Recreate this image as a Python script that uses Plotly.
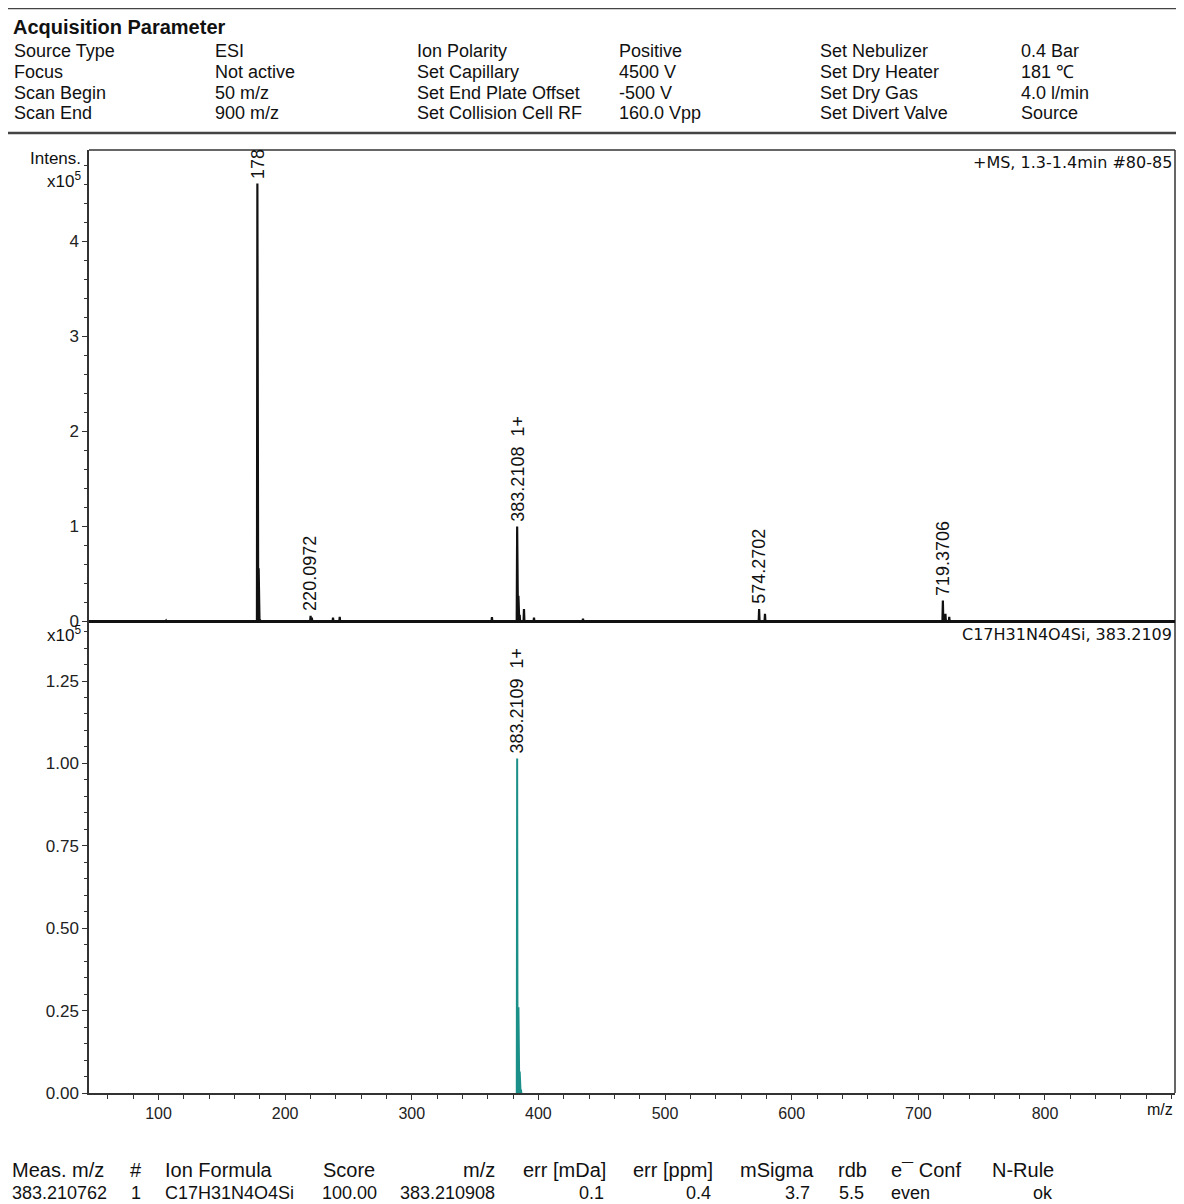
import plotly.graph_objects as go

# ---------------- data ----------------
# Top panel: measured spectrum (+MS), intensities in units of 1e5
ms_mz = [106.0, 160.9, 178.08, 179.08, 180.1, 184.5, 201.8, 220.0972, 221.1,
         237.8, 243.1, 363.3, 383.2108, 384.21, 385.21, 388.6, 396.5, 404.4,
         435.2, 574.2702, 578.9, 719.3706, 721.4, 724.4]
ms_int = [0.008, 0.01, 4.61, 0.56, 0.02, 0.01, 0.01, 0.06, 0.04,
          0.04, 0.05, 0.045, 1.00, 0.27, 0.07, 0.13, 0.04, 0.01,
          0.03, 0.13, 0.08, 0.22, 0.08, 0.05]
ms_labels = {178.08: "178", 220.0972: "220.0972", 383.2108: "383.2108  1+",
             574.2702: "574.2702", 719.3706: "719.3706"}

# Bottom panel: simulated isotope pattern, intensities in units of 1e5
sim_mz = [383.2109, 384.2135, 385.2120, 386.2130]
sim_int = [1.015, 0.26, 0.065, 0.01]
sim_labels = {383.2109: "383.2109  1+"}

x_ticks = [100, 200, 300, 400, 500, 600, 700, 800]
top_ticks = [0, 1, 2, 3, 4]
bot_ticks = [0.00, 0.25, 0.50, 0.75, 1.00, 1.25]

header_title = "Acquisition Parameter"
header_cols = [
    ["Source Type", "Focus", "Scan Begin", "Scan End"],
    ["ESI", "Not active", "50 m/z", "900 m/z"],
    ["Ion Polarity", "Set Capillary", "Set End Plate Offset", "Set Collision Cell RF"],
    ["Positive", "4500 V", "-500 V", "160.0 Vpp"],
    ["Set Nebulizer", "Set Dry Heater", "Set Dry Gas", "Set Divert Valve"],
    ["0.4 Bar", "181 \u2103", "4.0 l/min", "Source"],
]

table_header = ["Meas. m/z", "#", "Ion Formula", "Score", "m/z", "err [mDa]",
                "err [ppm]", "mSigma", "rdb", "e\u00af Conf", "N-Rule"]
table_row = ["383.210762", "1", "C17H31N4O4Si", "100.00", "383.210908", "0.1",
             "0.4", "3.7", "5.5", "even", "ok"]

# ---------------- layout helpers ----------------
# the page body has an 8px margin; the visible drawing area is x 8..1176
OFF = 8
W, H = 1184 - 2 * OFF, 1204 - OFF
L, R, T, B = 89, 1175, 150, 1093          # plot area in window pixels
PW, PH = R - L, B - T

# axis calibration (pixels per m/z unit, pixel of m/z 100)
PX_PER_MZ = 1.2664
PX_100 = 158.5
X_MIN = 100 - (PX_100 - L) / PX_PER_MZ
X_MAX = 100 + (R - PX_100) / PX_PER_MZ


def px(x):
    return (x - L) / PW


def py(y):
    return (B - y) / PH


def profile(mz, inten, hw=0.35, full=True):
    xs, ys = ([X_MIN], [0.0]) if full else ([], [])
    for m, h in sorted(zip(mz, inten)):
        xs += [m - hw, m, m + hw]
        ys += [0.0, h, 0.0]
    if full:
        xs.append(X_MAX)
        ys.append(0.0)
    return xs, ys


fig = go.Figure()
tx, ty = profile(ms_mz, ms_int)
fig.add_trace(go.Scatter(x=tx, y=ty, mode="lines", xaxis="x", yaxis="y",
                         line=dict(color="#111111", width=2.2), hoverinfo="skip",
                         showlegend=False))
bx, by = profile(sim_mz, sim_int, hw=0.3, full=False)
fig.add_trace(go.Scatter(x=bx, y=by, mode="lines", xaxis="x2", yaxis="y2",
                         line=dict(color="#1a9088", width=2), hoverinfo="skip",
                         showlegend=False))

TXT = "#111111"
AX = "#333333"
SANS = "Liberation Sans, Arial, sans-serif"
TAH = "DejaVu Sans, Tahoma, sans-serif"

ann = []
# peak labels
for m, lab in ms_labels.items():
    h = ms_int[ms_mz.index(m)]
    ann.append(dict(x=m, y=h, xref="x", yref="y", text=lab, textangle=-90,
                    showarrow=False, xanchor="center", yanchor="bottom", yshift=3,
                    font=dict(family=SANS, size=18, color=TXT)))
for m, lab in sim_labels.items():
    h = sim_int[sim_mz.index(m)]
    ann.append(dict(x=m, y=h, xref="x2", yref="y2", text=lab, textangle=-90,
                    showarrow=False, xanchor="center", yanchor="bottom", yshift=3,
                    font=dict(family=SANS, size=18, color=TXT)))


def label(x, y, text, anchor="left", size=18, family=SANS):
    ann.append(dict(x=px(x), y=py(y), xref="paper", yref="paper", text=text,
                    showarrow=False, xanchor=anchor, yanchor="middle",
                    font=dict(family=family, size=size, color=TXT)))


# panel captions
label(R - 1, 162, "+MS, 1.3-1.4min #80-85", "right", 16, TAH)
label(R - 1, 634, "C17H31N4O4Si, 383.2109", "right", 16, TAH)
label(83, 159, "Intens.", "right", 17)
label(83, 180, "x10<sup>5</sup>", "right", 17)
label(83, 634, "x10<sup>5</sup>", "right", 17)
label(R, 1109, "m/z", "right", 16)

# header
label(11, 27, "<b>" + header_title + "</b>", "left", 20)
col_x = [12, 213, 415, 617, 818, 1019]
row_y = [51, 72, 93, 113]
for cx, col in zip(col_x, header_cols):
    for ry, t in zip(row_y, col):
        label(cx, ry, t, "left", 18)

# result table
hdr_pos = [(10, "left"), (128, "left"), (163, "left"), (321, "left"), (497, "right"),
           (521, "left"), (631, "left"), (738, "left"), (836, "left"), (889, "left"),
           (990, "left")]
row_pos = [(10, "left"), (129, "left"), (163, "left"), (320, "left"), (497, "right"),
           (606, "right"), (713, "right"), (812, "right"), (866, "right"), (889, "left"),
           (1031, "left")]
for (x0, anc), t in zip(hdr_pos, table_header):
    label(x0, 1170, t, anc, 20)
for (x0, anc), t in zip(row_pos, table_row):
    label(x0, 1193, t, anc, 18)

shapes = [
    # header rules
    dict(type="line", xref="paper", yref="paper", x0=px(0), x1=px(1184),
         y0=py(8), y1=py(8), line=dict(color="#444444", width=2.5)),
    dict(type="line", xref="paper", yref="paper", x0=px(0), x1=px(1184),
         y0=py(133), y1=py(133), line=dict(color="#444444", width=2.5)),
    # frame
    dict(type="line", xref="paper", yref="paper", x0=0, x1=1, y0=1, y1=1,
         line=dict(color=AX, width=1.5)),
    dict(type="line", xref="paper", yref="paper", x0=1, x1=1, y0=0, y1=1,
         line=dict(color=AX, width=1.5)),
    # panel divider / baseline of top spectrum
    dict(type="line", xref="paper", yref="paper", x0=0, x1=1, y0=0.5, y1=0.5,
         line=dict(color="#111111", width=2.8)),
]

top_range = (PH / 2) / 95.0
bot_range = (PH / 2) / 329.6

yaxis_common = dict(showline=True, linecolor=AX, linewidth=1.5, ticks="outside",
                    ticklen=5, tickwidth=1.2, tickcolor=AX, showgrid=False,
                    zeroline=False, tickfont=dict(family=SANS, size=17, color="#222"))

fig.update_layout(
    width=W, height=H,
    margin=dict(l=L - OFF, r=(W + OFF) - R, t=T - OFF, b=(H + OFF) - B, pad=0),
    paper_bgcolor="white", plot_bgcolor="white",
    showlegend=False,
    xaxis=dict(domain=[0, 1], anchor="y", range=[X_MIN, X_MAX], showticklabels=False,
               ticks="", showline=False, showgrid=False, zeroline=False,
               matches="x2"),
    yaxis=dict(domain=[0.5, 1], anchor="x", range=[0, top_range],
               tickvals=top_ticks, ticktext=[str(v) for v in top_ticks],
               minor=dict(dtick=0.2, ticks="outside", ticklen=3, tickcolor=AX,
                          showgrid=False),
               **yaxis_common),
    xaxis2=dict(domain=[0, 1], anchor="y2", range=[X_MIN, X_MAX], tickvals=x_ticks,
                showline=True, linecolor=AX, linewidth=1.5, ticks="outside",
                ticklen=5, tickwidth=1.2, tickcolor=AX, showgrid=False, zeroline=False,
                minor=dict(dtick=20, tick0=0, ticks="outside", ticklen=4,
                           tickcolor=AX, showgrid=False),
                tickfont=dict(family=SANS, size=16, color="#222")),
    yaxis2=dict(domain=[0, 0.5], anchor="x2", range=[0, bot_range],
                tickvals=bot_ticks, tickformat=".2f",
                minor=dict(dtick=0.05, ticks="outside", ticklen=3, tickcolor=AX,
                           showgrid=False),
                **yaxis_common),
    annotations=ann,
    shapes=shapes,
)

fig.write_html("out.html")
